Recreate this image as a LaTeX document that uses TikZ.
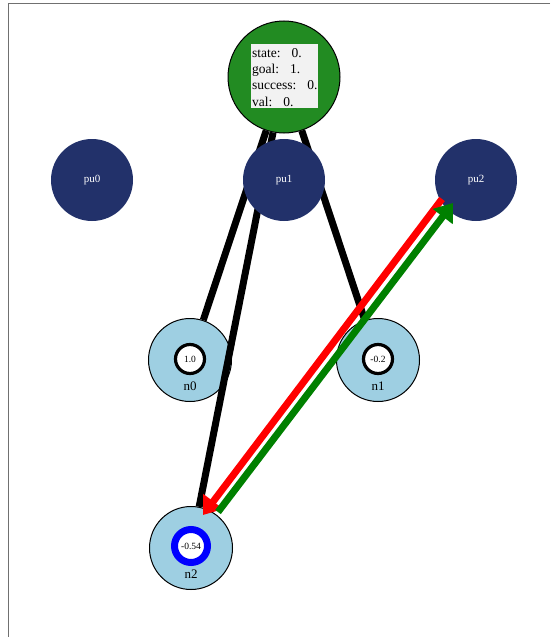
\documentclass[tikz,border=0pt]{standalone}
\usepackage{fontspec}
\setmainfont{Liberation Serif}
\usetikzlibrary{arrows.meta}
\definecolor{navy}{HTML}{22316A}
\definecolor{lblue}{HTML}{9ECFE2}
\definecolor{fgreen}{HTML}{228B22}
\definecolor{agreen}{HTML}{008000}
\definecolor{boxgray}{HTML}{F2F2F2}
\definecolor{framegray}{HTML}{707070}
\begin{document}
\begin{tikzpicture}[x=1pt,y=-1pt,
  pu/.style={circle,fill=navy,minimum size=82pt,inner sep=0,text=white,font=\fontsize{11}{12}\selectfont},
  nn/.style={circle,draw=black,line width=1pt,fill=lblue,minimum size=83pt,inner sep=0},
  val/.style={circle,fill=white,draw=black,line width=3.2pt,minimum size=29pt,inner sep=0,font=\fontsize{9.5}{10}\selectfont},
  valblue/.style={val,draw=blue,line width=7pt,minimum size=33pt},
  nlab/.style={font=\fontsize{13}{14}\selectfont,inner sep=0,anchor=base},
  infoline/.style={font=\fontsize{13.5}{15}\selectfont,inner sep=0,anchor=base west},
  edge/.style={line width=7pt,black},
  garrow/.style={line width=7pt,agreen,-{Triangle[length=17pt,width=24pt]}},
  rarrow/.style={line width=7pt,red,-{Triangle[length=17pt,width=24pt]}},
  framel/.style={draw=framegray,line width=1.5pt}
]
\useasboundingbox (0,0) rectangle (550,637);
% frame
\coordinate (fa) at (550,3.5);
\coordinate (fb) at (8.3,3.5);
\coordinate (fc) at (8.3,637);
\draw[framel] (fa) -- (fb) -- (fc);
% state node
\node[circle,draw=black,line width=1pt,fill=fgreen,minimum size=112pt,inner sep=0] (state) at (284,77) {};
\node[fill=boxgray,minimum width=67pt,minimum height=64pt,inner sep=0] (info) at (284.5,76) {};
\node[infoline] (i1) at (252,57) {state:\hspace{11pt}0.};
\node[infoline] (i2) at (252,73) {goal:\hspace{11pt}1.};
\node[infoline] (i3) at (252,89.5) {success:\hspace{11pt}0.};
\node[infoline] (i4) at (252,106) {val:\hspace{11pt}0.};
% n nodes
\node[nn] (n0) at (190,360) {};
\node[val] (v0) at (190,359) {1.0};
\node[nlab] (l0) at (190,390) {n0};
\node[nn] (n1) at (378,360) {};
\node[val] (v1) at (378,359) {-0.2};
\node[nlab] (l1) at (378,390) {n1};
\node[nn] (n2) at (191,548) {};
\node[valblue] (v2) at (191,546) {-0.54};
\node[nlab] (l2) at (191,578) {n2};
% edges
\draw[edge] (state) -- (n0);
\draw[edge] (state) -- (n1);
\draw[edge] (state) -- (n2);
% pu nodes
\node[pu] (pu0) at (92,180) {pu0};
\node[pu] (pu1) at (284,180) {pu1};
\node[pu] (pu2) at (476,180) {pu2};
% arrows
\coordinate (gtail) at (218,512);
\coordinate (gtip) at (453,203);
\coordinate (rtail) at (442,199);
\coordinate (rtip) at (203,515);
\draw[rarrow] (rtail) -- (rtip);
\draw[garrow] (gtail) -- (gtip);
\end{tikzpicture}
\end{document}
